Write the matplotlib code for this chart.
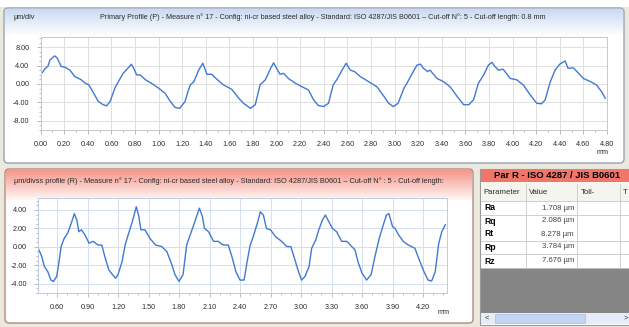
import numpy as np
import matplotlib
matplotlib.use("Agg")
import matplotlib.pyplot as plt
from matplotlib.colors import LinearSegmentedColormap
from matplotlib.patches import FancyBboxPatch, Rectangle
from matplotlib.ticker import MultipleLocator, FuncFormatter

plt.rcParams.update({"font.family": ["Liberation Sans", "DejaVu Sans"]})

W, H = 629, 327

# primary profile P (mm, µm)
p_x = [0.017, 0.04, 0.062, 0.08, 0.12, 0.14, 0.175, 0.21, 0.25, 0.29, 0.34, 0.38, 0.41,
       0.45, 0.49, 0.53, 0.56, 0.59, 0.63, 0.66, 0.70, 0.74, 0.77, 0.79, 0.815, 0.845,
       0.89, 0.94, 1.0, 1.055, 1.10, 1.14, 1.18, 1.225, 1.25, 1.27, 1.30, 1.34, 1.375,
       1.41, 1.45, 1.50, 1.55, 1.62, 1.68, 1.72, 1.78, 1.82, 1.86, 1.905, 1.95, 1.975,
       2.00, 2.03, 2.06, 2.10, 2.16, 2.215, 2.27, 2.315, 2.355, 2.40, 2.44, 2.48, 2.51,
       2.555, 2.59, 2.625, 2.66, 2.71, 2.78, 2.85, 2.91, 2.95, 2.99, 3.03, 3.08, 3.105,
       3.15, 3.19, 3.22, 3.245, 3.28, 3.30, 3.36, 3.415, 3.47, 3.53, 3.585, 3.63, 3.67,
       3.71, 3.755, 3.795, 3.825, 3.85, 3.88, 3.92, 3.98, 4.035, 4.09, 4.15, 4.205, 4.245,
       4.275, 4.32, 4.36, 4.40, 4.445, 4.47, 4.515, 4.56, 4.60, 4.66, 4.71, 4.755, 4.785]
p_y = [2.5, 3.4, 3.8, 5.2, 6.1, 5.7, 3.8, 3.6, 3.0, 1.6, 1.0, 0.15, -0.2,
       -2.0, -3.8, -4.5, -4.75, -3.8, -0.9, 0.5, 2.3, 3.4, 4.3, 3.4, 1.95, 1.95,
       0.9, 0.15, -0.9, -2.0, -3.8, -5.1, -5.3, -3.8, -1.6, -0.2, 0.5, 3.0, 4.5,
       2.1, 2.1, 0.9, -0.2, -1.15, -3.1, -4.2, -5.3, -4.5, -0.2, 0.9, 3.4, 4.6,
       3.4, 2.1, 2.3, 1.2, 0.15, -0.6, -1.3, -3.5, -4.7, -4.9, -4.2, -0.2, 0.9,
       3.0, 4.5, 3.0, 2.7, 1.6, 0.5, -0.6, -2.7, -4.2, -4.9, -4.2, -0.9, 0.15,
       2.3, 4.1, 4.3, 3.4, 2.7, 3.0, 1.2, 0.5, -0.6, -2.7, -4.5, -4.5, -3.4,
       0.15, 1.95, 4.1, 4.7, 3.8, 3.0, 3.2, 1.2, 0.9, -0.2, -2.4, -4.2, -4.3,
       -3.5, 0.5, 3.0, 4.3, 5.0, 3.4, 3.5, 2.3, 1.2, 0.5, -0.2, -1.7, -3.1]

# roughness profile R (mm, µm)
r_x = [0.416, 0.45, 0.475, 0.51, 0.54, 0.565, 0.597, 0.62, 0.64, 0.67, 0.705, 0.74, 0.77,
       0.795, 0.815, 0.84, 0.875, 0.915, 0.955, 1.005, 1.04, 1.07, 1.11, 1.145, 1.177,
       1.20, 1.24, 1.27, 1.30, 1.34, 1.38, 1.405, 1.425, 1.465, 1.515, 1.57, 1.63, 1.68,
       1.73, 1.76, 1.80, 1.84, 1.875, 1.91, 1.95, 2.00, 2.03, 2.05, 2.09, 2.14, 2.185,
       2.235, 2.285, 2.32, 2.36, 2.40, 2.44, 2.47, 2.50, 2.53, 2.57, 2.60, 2.63, 2.66,
       2.70, 2.75, 2.81, 2.86, 2.90, 2.94, 2.97, 3.005, 3.04, 3.08, 3.105, 3.145, 3.175,
       3.21, 3.24, 3.275, 3.31, 3.35, 3.40, 3.45, 3.50, 3.53, 3.56, 3.60, 3.645, 3.69,
       3.73, 3.77, 3.81, 3.84, 3.865, 3.90, 3.925, 3.96, 4.005, 4.055, 4.12, 4.17, 4.21,
       4.25, 4.285, 4.32, 4.355, 4.385, 4.42]
r_y = [-0.15, -1.05, -2.1, -2.7, -3.6, -3.75, -3.2, -1.6, 0.03, 0.9, 1.5, 2.55, 3.6,
       2.9, 1.65, 1.85, 1.3, 0.4, 0.6, 0.2, 0.2, -1.05, -2.5, -3.0, -3.4,
       -3.0, -1.6, 0.2, 1.3, 2.7, 4.35, 3.3, 1.85, 1.85, 0.9, 0.2, 0.03, -0.5,
       -1.95, -3.0, -3.75, -3.0, 0.2, 1.3, 2.55, 4.2, 3.3, 2.0, 1.65, 0.6, 0.6,
       0.2, 0.2, -1.05, -2.7, -3.6, -3.6, -1.6, 0.2, 1.1, 2.55, 3.8, 3.45, 2.0,
       1.85, 1.1, 0.6, 0.03, 0.03, -1.4, -2.5, -3.6, -3.2, -2.1, -0.15, 0.75, 1.85,
       2.9, 3.45, 2.7, 2.0, 1.65, 0.6, 0.6, 0.03, -0.3, -1.6, -2.85, -3.6, -3.0,
       -0.9, 0.95, 2.4, 3.45, 3.6, 2.2, 2.0, 1.3, 0.6, 0.2, -0.15, -1.6, -2.7,
       -3.6, -3.7, -2.7, 0.4, 1.65, 2.4]

# parameter table
par_names = ["Ra", "Rq", "Rt", "Rp", "Rz"]
par_values = [1.708, 2.086, 8.278, 3.784, 7.676]
table_cols = ["Parameter", "Value", "Toll-", "T"]

TITLE_P = ("Primary Profile (P) - Measure n° 17 - Config: ni-cr based steel alloy - "
           "Standard: ISO 4287/JIS B0601 – Cut-off N°: 5 - Cut-off length: 0.8 mm")
TITLE_R = ("µm/divss profile (R) - Measure n° 17 - Config: ni-cr based steel alloy - "
           "Standard: ISO 4287/JIS B0601 – Cut-off N° : 5 - Cut-off length:")

LINE = "#4079d4"
TXT = "#2a2a2a"


def gradient(ax, x0, x1, y0, y1, c_top, c_bot):
    cmap = LinearSegmentedColormap.from_list("g", [c_top, c_bot])
    ax.imshow(np.linspace(0, 1, 64).reshape(-1, 1), cmap=cmap, aspect="auto",
              extent=[x0, x1, y1, y0], origin="upper", zorder=1, interpolation="bilinear")


def panel(ax, x0, y0, x1, y1, ec, fc="white"):
    ax.add_patch(FancyBboxPatch((x0, y0), x1 - x0, y1 - y0,
                                boxstyle="round,pad=0,rounding_size=4",
                                fc=fc, ec=ec, lw=1.0, zorder=0.5))


def px_axes(fig, left, top, right, bottom):
    return fig.add_axes([left / W, 1 - bottom / H, (right - left) / W, (bottom - top) / H])


def style_plot(ax, grid_c, frame_c, xmaj, xmin, ymaj, ymin):
    ax.set_facecolor("white")
    ax.xaxis.set_major_locator(MultipleLocator(xmaj))
    ax.xaxis.set_minor_locator(MultipleLocator(xmin))
    ax.yaxis.set_major_locator(MultipleLocator(ymaj))
    ax.yaxis.set_minor_locator(MultipleLocator(ymin))
    fmt = FuncFormatter(lambda v, _: f"{v:.2f}")
    ax.xaxis.set_major_formatter(fmt)
    ax.yaxis.set_major_formatter(fmt)
    ax.grid(True, which="major", color=grid_c, lw=0.7)
    ax.tick_params(which="both", direction="out", color="#a0a0a0", labelsize=5.2,
                   labelcolor=TXT, width=0.5)
    ax.tick_params(which="major", length=3, pad=5)
    ax.tick_params(which="minor", length=1.5)
    for s in ax.spines.values():
        s.set_color(frame_c)
        s.set_linewidth(0.7)
    ax.set_axisbelow(True)


fig = plt.figure(figsize=(W / 100, H / 100), dpi=100)
fig.patch.set_facecolor("#ebe8dd")

bg = fig.add_axes([0, 0, 1, 1])
bg.set_xlim(0, W)
bg.set_ylim(H, 0)
bg.axis("off")
bg.add_patch(Rectangle((0, 0), W, 7, fc="white", ec="none", zorder=0))

# top panel: primary profile
panel(bg, 4, 8, 624, 163, "#9aa3b3")
gradient(bg, 5, 623, 9, 36, "#c9daf3", "#ffffff")
bg.text(14, 17.5, "µm/div", fontsize=5.2, color=TXT, va="center", zorder=3)
bg.text(100, 17.5, TITLE_P, fontsize=5.25, color=TXT, va="center", zorder=3)
bg.text(597, 152, "mm", fontsize=5.2, color=TXT, va="center", zorder=3)

# lower left panel: roughness profile
panel(bg, 5, 169, 473, 323, "#b08a86")
gradient(bg, 6, 472, 170, 200, "#f4968a", "#fff6f4")
bg.text(14, 181, TITLE_R, fontsize=5.3, color=TXT, va="center", zorder=3)
bg.text(438, 312, "mm", fontsize=5.2, color=TXT, va="center", zorder=3)

# lower right panel: parameter table
bg.add_patch(Rectangle((480, 169), 150, 156, fc="white", ec="#9a9a9a", lw=0.8, zorder=0.5))
bg.add_patch(Rectangle((481, 170), 149, 11.5, fc="#f0766a", ec="none", zorder=1))
bg.text(557, 176, "Par R - ISO 4287 / JIS B0601", fontsize=6.8, weight="bold",
        color="black", ha="center", va="center", zorder=3)
bg.add_patch(Rectangle((481, 181.5), 149, 19, fc="#f5f4ef", ec="none", zorder=1))
col_x = [483, 529, 581, 623]
for name, cx in zip(table_cols, col_x):
    bg.text(cx, 192, name, fontsize=5.6, color=TXT, va="center", zorder=3)
for sx in [526, 577, 620]:
    bg.plot([sx, sx], [184, 268], color="#c8c8c8", lw=0.6, zorder=2)
row_y = [208, 221, 234, 247, 261]
for yl in [200.5, 215, 241, 254, 268]:
    bg.plot([481, 629], [yl, yl], color="#c8c8c8", lw=0.6, zorder=2)
for name, val, ry in zip(par_names, par_values, row_y):
    bg.text(484, ry, name, fontsize=6.2, weight="bold", color="black", va="center", zorder=3)
    bg.text(574, ry, f"{val:.3f} µm", fontsize=5.6, color="#444444", ha="right",
            va="center", zorder=3)
bg.add_patch(Rectangle((481, 268), 149, 45, fc="#858585", ec="none", zorder=1))
bg.add_patch(Rectangle((481, 313), 149, 11, fc="#e6edf8", ec="none", zorder=1))
bg.add_patch(Rectangle((495, 314), 90, 9, fc="#c3d5f2", ec="#a9bde0", lw=0.5, zorder=1.5))
bg.text(485, 318.5, "<", fontsize=5.5, color="#333333", va="center", zorder=3)
bg.text(624, 318.5, ">", fontsize=5.5, color="#333333", va="center", zorder=3)

# primary profile plot
ax1 = px_axes(fig, 40.5, 37, 607, 130)
style_plot(ax1, "#dedede", "#c8c8c8", 0.2, 0.1, 4.0, 1.0)
ax1.plot(p_x, p_y, color=LINE, lw=1.0)
ax1.set_xlim(0, 4.8)
ax1.set_ylim(-10, 10.2)

# roughness profile plot
ax2 = px_axes(fig, 38, 198, 447, 293)
style_plot(ax2, "#d3def2", "#bccbea", 0.3, 0.1, 2.0, 0.5)
ax2.plot(r_x, r_y, color=LINE, lw=1.0)
ax2.set_xlim(0.413, 4.436)
ax2.set_ylim(-5.0, 5.3)

fig.savefig("out.png", dpi=100)
